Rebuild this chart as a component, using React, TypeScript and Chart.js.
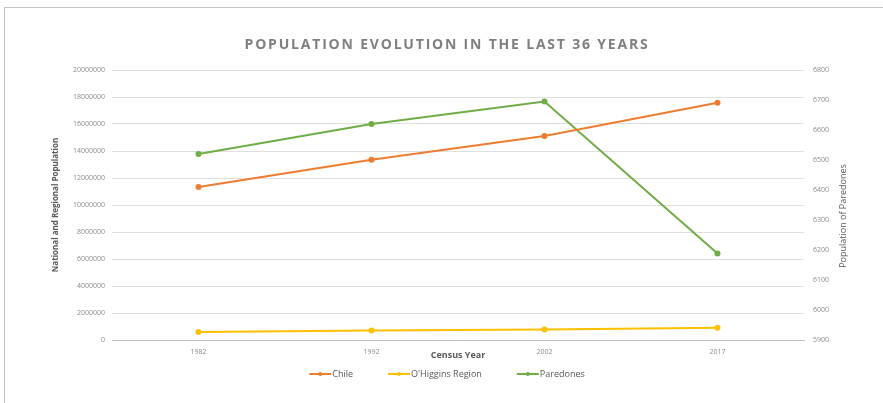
import React, { useEffect, useRef } from "react";
import { Chart, registerables } from "chart.js";

Chart.register(...registerables);

const years = ["1982", "1992", "2002", "2017"];
const chileValues = [11330000, 13350000, 15116000, 17574000];
const ohigginsValues = [587000, 696000, 781000, 915000];
const paredonesValues = [6520, 6620, 6695, 6188];

const chartTitle = "POPULATION EVOLUTION IN THE LAST 36 YEARS";
const leftAxisTitle = "National and Regional Population";
const rightAxisTitle = "Population of Paredones";
const xAxisTitle = "Census Year";

const seriesNames = ["Chile", "O'Higgins Region", "Paredones"];
const seriesColors = ["#ED7D31", "#FFC000", "#70AD47"];

const FONT = "'Open Sans', 'Noto Sans', sans-serif";

const customText = {
  id: "customText",
  afterDraw(chart: any) {
    const ctx = chart.ctx as CanvasRenderingContext2D;
    // Title
    ctx.save();
    ctx.font = `bold 14px ${FONT}`;
    ctx.fillStyle = "#7f7f7f";
    (ctx as any).letterSpacing = "1.8px";
    ctx.textAlign = "center";
    ctx.textBaseline = "middle";
    ctx.fillText(chartTitle, 447, 45);
    ctx.restore();

    // Right axis title (reads bottom-to-top)
    ctx.save();
    ctx.font = `9px ${FONT}`;
    ctx.fillStyle = "#595959";
    ctx.translate(843, 216);
    ctx.rotate(-Math.PI / 2);
    ctx.textAlign = "center";
    ctx.textBaseline = "middle";
    ctx.fillText(rightAxisTitle, 0, 0);
    ctx.restore();

    // Legend
    ctx.save();
    ctx.font = `9px ${FONT}`;
    const lineW = 22;
    const gapText = 1;
    const gapItems = 35;
    const ds = chart.data.datasets;
    const widths = ds.map((d: any) => lineW + gapText + ctx.measureText(d.label).width);
    const total = widths.reduce((a: number, b: number) => a + b, 0) + gapItems * (ds.length - 1);
    let x = 447 - total / 2;
    const y = 374;
    ds.forEach((d: any, i: number) => {
      ctx.strokeStyle = d.borderColor;
      ctx.lineWidth = 2;
      ctx.beginPath();
      ctx.moveTo(x, y);
      ctx.lineTo(x + lineW, y);
      ctx.stroke();
      ctx.fillStyle = d.borderColor;
      ctx.beginPath();
      ctx.arc(x + lineW / 2, y, 2, 0, Math.PI * 2);
      ctx.fill();
      ctx.fillStyle = "#595959";
      ctx.textAlign = "left";
      ctx.textBaseline = "middle";
      ctx.fillText(d.label, x + lineW + gapText, y);
      x += widths[i] + gapItems;
    });
    ctx.restore();
  },
};

export default function App() {
  const canvasRef = useRef<HTMLCanvasElement | null>(null);

  useEffect(() => {
    if (!canvasRef.current) return;
    const tickFont = { family: FONT, size: 7 };
    const chart = new Chart(canvasRef.current, {
      type: "line",
      data: {
        labels: years,
        datasets: [
          {
            label: seriesNames[0],
            data: chileValues,
            borderColor: seriesColors[0],
            backgroundColor: seriesColors[0],
            borderWidth: 2,
            pointRadius: 2,
            yAxisID: "y",
          },
          {
            label: seriesNames[1],
            data: ohigginsValues,
            borderColor: seriesColors[1],
            backgroundColor: seriesColors[1],
            borderWidth: 2,
            pointRadius: 2,
            yAxisID: "y",
          },
          {
            label: seriesNames[2],
            data: paredonesValues,
            borderColor: seriesColors[2],
            backgroundColor: seriesColors[2],
            borderWidth: 2,
            pointRadius: 2,
            yAxisID: "y1",
          },
        ],
      },
      options: {
        responsive: false,
        animation: false,
        devicePixelRatio: 1,
        layout: { padding: { left: 48, right: 33, top: 70, bottom: 42 } },
        plugins: {
          legend: { display: false },
          title: { display: false },
          tooltip: { enabled: false },
        },
        scales: {
          x: {
            offset: true,
            grid: { display: false, drawTicks: false },
            border: { display: true, color: "#bfbfbf", width: 1 },
            ticks: { font: tickFont, color: "#8c8c8c", padding: 8 },
            title: {
              display: true,
              text: xAxisTitle,
              font: { family: FONT, size: 9, weight: "bold" },
              color: "#595959",
              padding: { top: 0, bottom: 0 },
            },
            afterFit: (s: any) => {
              s.height = 21;
            },
          },
          y: {
            position: "left",
            min: 0,
            max: 20000000,
            grid: { color: "#e0e0e0", drawTicks: false },
            border: { display: false },
            ticks: {
              stepSize: 2000000,
              font: tickFont,
              color: "#8c8c8c",
              padding: 7,
              callback: (v: any) => String(v),
            },
            title: {
              display: true,
              text: leftAxisTitle,
              font: { family: FONT, size: 8, weight: "bold" },
              color: "#595959",
              padding: { top: 3, bottom: 0 },
            },
            afterFit: (s: any) => {
              s.width = 64;
            },
          },
          y1: {
            position: "right",
            min: 5900,
            max: 6800,
            grid: { display: false, drawTicks: false },
            border: { display: false },
            ticks: {
              stepSize: 100,
              font: tickFont,
              color: "#8c8c8c",
              padding: 9,
              callback: (v: any) => String(v),
            },
            afterFit: (s: any) => {
              s.width = 46;
            },
          },
        },
      },
      plugins: [customText],
    });
    return () => chart.destroy();
  }, []);

  return (
    <div
      style={{
        position: "fixed",
        left: 0,
        top: 0,
        width: 883,
        height: 403,
        overflow: "hidden",
        background: "#ffffff",
      }}
    >
      <div
        style={{
          position: "absolute",
          left: 4,
          top: 7,
          width: 1000,
          height: 600,
          border: "1px solid #c4c4c4",
          boxSizing: "border-box",
        }}
      />
      <canvas
        ref={canvasRef}
        width={883}
        height={403}
        style={{ position: "absolute", left: 0, top: 0, width: 883, height: 403 }}
      />
    </div>
  );
}
